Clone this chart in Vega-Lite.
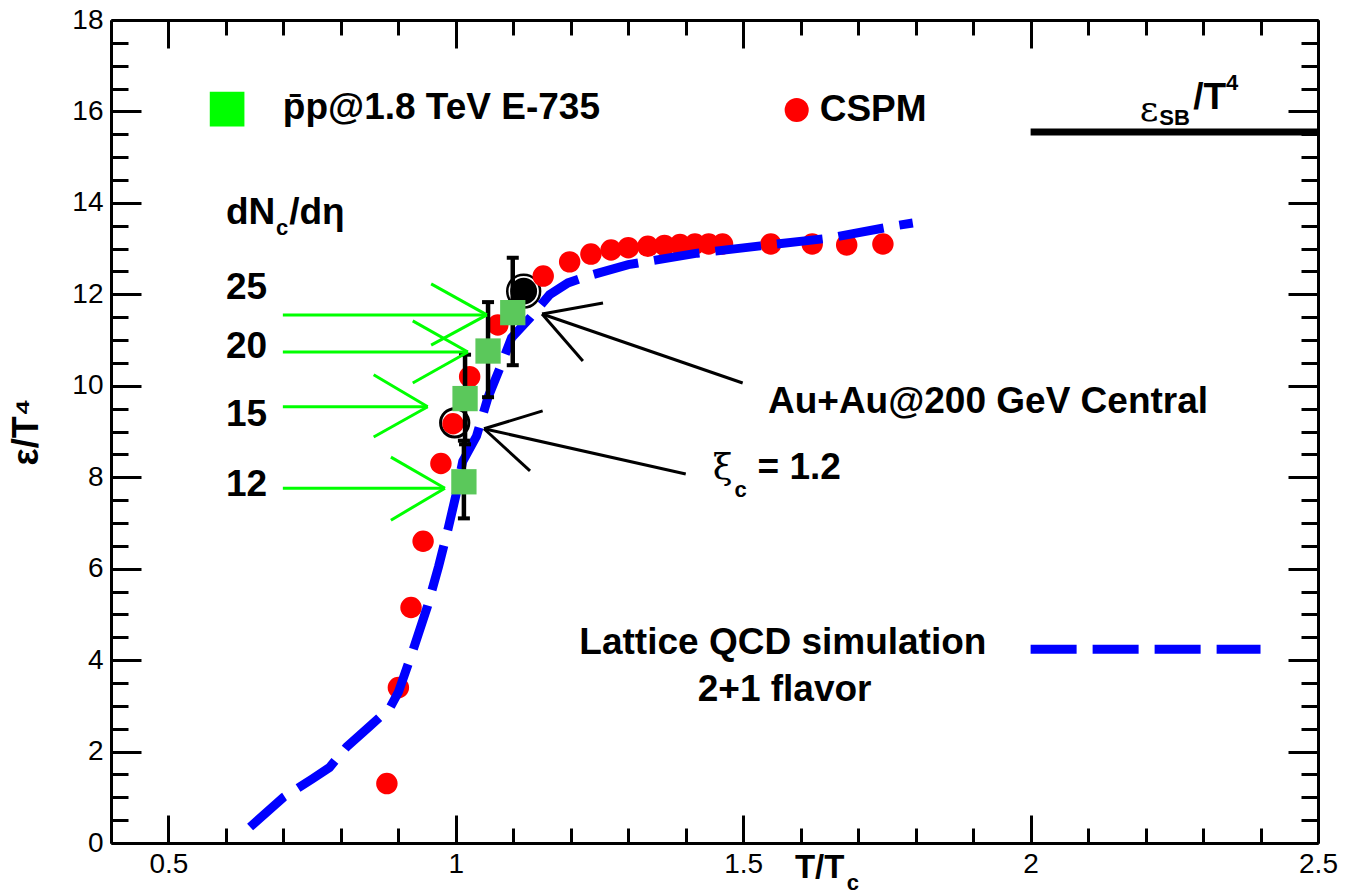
{
  "$schema": "https://vega.github.io/schema/vega-lite/v6.json",
  "width": 1207,
  "height": 823,
  "autosize": {"type": "none"},
  "padding": {"left": 111, "top": 20, "right": 27, "bottom": 52},
  "background": "white",
  "config": {"view": {"stroke": null}, "font": "Liberation Sans"},
  "datasets": {
    "cspm": [
      {"x": 0.88, "y": 1.3}, {"x": 0.9, "y": 3.4}, {"x": 0.922, "y": 5.15}, {"x": 0.943, "y": 6.6},
      {"x": 0.974, "y": 8.3}, {"x": 0.995, "y": 9.17}, {"x": 1.024, "y": 10.2}, {"x": 1.073, "y": 11.33},
      {"x": 1.152, "y": 12.4}, {"x": 1.198, "y": 12.71}, {"x": 1.235, "y": 12.88}, {"x": 1.27, "y": 12.97},
      {"x": 1.3, "y": 13.02}, {"x": 1.334, "y": 13.05}, {"x": 1.363, "y": 13.07}, {"x": 1.39, "y": 13.09},
      {"x": 1.416, "y": 13.1}, {"x": 1.44, "y": 13.1}, {"x": 1.464, "y": 13.1}, {"x": 1.548, "y": 13.1},
      {"x": 1.62, "y": 13.1}, {"x": 1.68, "y": 13.08}, {"x": 1.743, "y": 13.1}
    ],
    "lattice": [
      {"series": "curve", "x": 0.642, "y": 0.35}, {"series": "curve", "x": 0.7, "y": 1.0},
      {"series": "curve", "x": 0.75, "y": 1.4}, {"series": "curve", "x": 0.78, "y": 1.65},
      {"series": "curve", "x": 0.81, "y": 2.1}, {"series": "curve", "x": 0.85, "y": 2.55},
      {"series": "curve", "x": 0.885, "y": 2.95}, {"series": "curve", "x": 0.9, "y": 3.3},
      {"series": "curve", "x": 0.925, "y": 4.2}, {"series": "curve", "x": 0.95, "y": 5.15},
      {"series": "curve", "x": 0.97, "y": 6.05}, {"series": "curve", "x": 0.987, "y": 6.9},
      {"series": "curve", "x": 1.0, "y": 7.6}, {"series": "curve", "x": 1.012, "y": 8.35},
      {"series": "curve", "x": 1.036, "y": 8.9}, {"series": "curve", "x": 1.056, "y": 9.75},
      {"series": "curve", "x": 1.077, "y": 10.4}, {"series": "curve", "x": 1.097, "y": 11.05},
      {"series": "curve", "x": 1.13, "y": 11.5}, {"series": "curve", "x": 1.163, "y": 11.99},
      {"series": "curve", "x": 1.195, "y": 12.25}, {"series": "curve", "x": 1.23, "y": 12.4},
      {"series": "curve", "x": 1.3, "y": 12.65}, {"series": "curve", "x": 1.42, "y": 12.9},
      {"series": "curve", "x": 1.53, "y": 13.06}, {"series": "curve", "x": 1.65, "y": 13.23},
      {"series": "curve", "x": 1.765, "y": 13.5}, {"series": "curve", "x": 1.795, "y": 13.56},
      {"series": "legend", "x": 2.0, "y": 4.24}, {"series": "legend", "x": 2.4, "y": 4.24}
    ],
    "ppbar": [
      {"x": 1.014, "y": 7.9, "lo": 7.1, "hi": 8.8},
      {"x": 1.016, "y": 9.72, "lo": 8.72, "hi": 10.68},
      {"x": 1.056, "y": 10.76, "lo": 9.75, "hi": 11.83},
      {"x": 1.099, "y": 11.6, "lo": 10.45, "hi": 12.8}
    ],
    "openCircle": [{"x": 0.998, "y": 9.19}],
    "filledCircle": [{"x": 1.118, "y": 12.07}],
    "sb": [{"x": 2.0, "x2": 2.5, "y": 15.55}],
    "greenArrows": [
      {"x": 0.699, "y": 11.55, "x2": 1.054, "y2": 11.55}, {"x": 0.957, "y": 12.23, "x2": 1.054, "y2": 11.55}, {"x": 0.957, "y": 10.89, "x2": 1.054, "y2": 11.55},
      {"x": 0.699, "y": 10.74, "x2": 1.021, "y2": 10.74}, {"x": 0.925, "y": 11.42, "x2": 1.021, "y2": 10.74}, {"x": 0.925, "y": 10.06, "x2": 1.021, "y2": 10.74},
      {"x": 0.699, "y": 9.54, "x2": 0.951, "y2": 9.54}, {"x": 0.857, "y": 10.24, "x2": 0.951, "y2": 9.54}, {"x": 0.857, "y": 8.88, "x2": 0.951, "y2": 9.54},
      {"x": 0.699, "y": 7.76, "x2": 0.981, "y2": 7.76}, {"x": 0.887, "y": 8.44, "x2": 0.981, "y2": 7.76}, {"x": 0.887, "y": 7.06, "x2": 0.981, "y2": 7.76}
    ],
    "blackArrows": [
      {"x": 1.499, "y": 10.06, "x2": 1.15, "y2": 11.57}, {"x": 1.256, "y": 11.81, "x2": 1.15, "y2": 11.57}, {"x": 1.221, "y": 10.54, "x2": 1.15, "y2": 11.57},
      {"x": 1.4, "y": 8.07, "x2": 1.049, "y2": 9.06}, {"x": 1.151, "y": 9.45, "x2": 1.049, "y2": 9.06}, {"x": 1.129, "y": 8.14, "x2": 1.049, "y2": 9.06}
    ],
    "textBold": [
      {"x": 0.699, "y": 16.08, "text": "p̄p@1.8 TeV E-735"},
      {"x": 1.633, "y": 16.03, "text": "CSPM"},
      {"x": 0.6, "y": 13.78, "text": "dN"},
      {"x": 0.71, "y": 13.78, "text": "/dη"},
      {"x": 0.6, "y": 12.14, "text": "25"},
      {"x": 0.6, "y": 10.85, "text": "20"},
      {"x": 0.6, "y": 9.36, "text": "15"},
      {"x": 0.6, "y": 7.83, "text": "12"},
      {"x": 1.543, "y": 9.65, "text": "Au+Au@200 GeV Central"},
      {"x": 1.525, "y": 8.2, "text": "= 1.2"},
      {"x": 2.283, "y": 16.3, "text": "/T"}
    ],
    "textCenter": [
      {"x": 1.569, "y": 4.37, "text": "Lattice QCD simulation"},
      {"x": 1.572, "y": 3.35, "text": "2+1 flavor"}
    ],
    "textSmall": [
      {"x": 0.687, "y": 13.45, "text": "c"},
      {"x": 1.485, "y": 7.72, "text": "c"},
      {"x": 2.224, "y": 15.85, "text": "SB"},
      {"x": 2.34, "y": 16.62, "text": "4"},
      {"x": 1.68, "y": -0.88, "text": "c"}
    ],
    "textGreek": [
      {"x": 1.447, "y": 8.2, "text": "ξ"},
      {"x": 2.19, "y": 16.03, "text": "ε"}
    ],
    "xTitle": [{"x": 1.59, "y": -0.55, "text": "T/T"}],
    "legendSquare": [{"x": 0.602, "y": 16.05}],
    "legendDot": [{"x": 1.593, "y": 16.03}]
  },
  "encoding": {
    "x": {"field": "x", "type": "quantitative", "scale": {"domain": [0.4, 2.5], "nice": false, "zero": false}, "axis": null},
    "y": {"field": "y", "type": "quantitative", "scale": {"domain": [0, 18], "nice": false, "zero": false}, "axis": null}
  },
  "resolve": {"axis": {"x": "independent", "y": "independent"}},
  "layer": [
    {
      "data": {"name": "sb"},
      "mark": {"type": "rule", "color": "black", "strokeWidth": 7},
      "encoding": {
        "x": {"field": "x", "type": "quantitative", "scale": {"domain": [0.4, 2.5], "nice": false, "zero": false},
          "axis": {"orient": "bottom", "values": [0.4,0.5,0.6,0.7,0.8,0.9,1,1.1,1.2,1.3,1.4,1.5,1.6,1.7,1.8,1.9,2,2.1,2.2,2.3,2.4,2.5],
            "format": "~g",
            "labelExpr": "abs(datum.value*2-round(datum.value*2))<0.001 ? datum.label : ''",
            "tickSize": {"condition": {"test": "abs(datum.value*2-round(datum.value*2))<0.001", "value": -28}, "value": -15},
            "tickWidth": 3, "tickColor": "black", "domainColor": "black", "domainWidth": 3,
            "labelFont": "Liberation Sans", "labelFontSize": 28, "labelColor": "black", "labelPadding": 35,
            "labelOverlap": false, "labelFlush": false, "labelBound": false, "grid": false, "title": null}},
        "x2": {"field": "x2"},
        "y": {"field": "y", "type": "quantitative", "scale": {"domain": [0, 18], "nice": false, "zero": false},
          "axis": {"orient": "left", "values": [0,0.5,1,1.5,2,2.5,3,3.5,4,4.5,5,5.5,6,6.5,7,7.5,8,8.5,9,9.5,10,10.5,11,11.5,12,12.5,13,13.5,14,14.5,15,15.5,16,16.5,17,17.5,18],
            "format": "~g",
            "labelExpr": "abs(datum.value/2-round(datum.value/2))<0.001 ? datum.label : ''",
            "tickSize": {"condition": {"test": "abs(datum.value/2-round(datum.value/2))<0.001", "value": -30}, "value": -17},
            "tickWidth": 3, "tickColor": "black", "domainColor": "black", "domainWidth": 3,
            "labelFont": "Liberation Sans", "labelFontSize": 28, "labelColor": "black", "labelPadding": 38,
            "labelOverlap": false, "labelBound": false, "labelFlush": false, "grid": false,
            "title": "ε/T⁴", "titleFont": "Liberation Sans", "titleFontSize": 36, "titleFontWeight": "bold", "titleColor": "black", "titlePadding": 26}}
      }
    },
    {
      "data": {"name": "openCircle"},
      "mark": {"type": "point", "shape": "circle", "filled": false, "stroke": "black", "strokeWidth": 3, "size": 800, "opacity": 1},
      "encoding": {
        "x": {"field": "x", "type": "quantitative", "scale": {"domain": [0.4, 2.5], "nice": false, "zero": false},
          "axis": {"orient": "top", "values": [0.4,0.5,0.6,0.7,0.8,0.9,1,1.1,1.2,1.3,1.4,1.5,1.6,1.7,1.8,1.9,2,2.1,2.2,2.3,2.4,2.5],
            "labels": false,
            "tickSize": {"condition": {"test": "abs(datum.value*2-round(datum.value*2))<0.001", "value": -28}, "value": -15},
            "tickWidth": 3, "tickColor": "black", "domainColor": "black", "domainWidth": 3, "grid": false, "title": null}},
        "y": {"field": "y", "type": "quantitative", "scale": {"domain": [0, 18], "nice": false, "zero": false},
          "axis": {"orient": "right", "values": [0,0.5,1,1.5,2,2.5,3,3.5,4,4.5,5,5.5,6,6.5,7,7.5,8,8.5,9,9.5,10,10.5,11,11.5,12,12.5,13,13.5,14,14.5,15,15.5,16,16.5,17,17.5,18],
            "labels": false,
            "tickSize": {"condition": {"test": "abs(datum.value/2-round(datum.value/2))<0.001", "value": -30}, "value": -17},
            "tickWidth": 3, "tickColor": "black", "domainColor": "black", "domainWidth": 3, "grid": false, "title": null}}
      }
    },
    {
      "data": {"name": "filledCircle"},
      "mark": {"type": "point", "shape": "circle", "filled": true, "color": "black", "opacity": 1, "size": 720}
    },
    {
      "data": {"name": "filledCircle"},
      "mark": {"type": "point", "shape": "circle", "filled": false, "stroke": "black", "strokeWidth": 2.5, "opacity": 1, "size": 1080}
    },
    {
      "data": {"name": "cspm"},
      "mark": {"type": "point", "shape": "circle", "filled": true, "color": "#ff0000", "opacity": 1, "size": 460}
    },
    {
      "data": {"name": "lattice"},
      "mark": {"type": "line", "color": "#0000ff", "strokeWidth": 9, "strokeDash": [46, 16]},
      "encoding": {"detail": {"field": "series"}}
    },
    {
      "data": {"name": "ppbar"},
      "mark": {"type": "rule", "color": "black", "strokeWidth": 4.5},
      "encoding": {"y": {"field": "lo", "type": "quantitative", "scale": {"domain": [0, 18], "nice": false, "zero": false}, "axis": null}, "y2": {"field": "hi"}}
    },
    {
      "data": {"name": "ppbar"},
      "mark": {"type": "tick", "orient": "horizontal", "color": "black", "opacity": 1, "thickness": 4, "size": 12},
      "encoding": {"y": {"field": "lo", "type": "quantitative", "scale": {"domain": [0, 18], "nice": false, "zero": false}, "axis": null}}
    },
    {
      "data": {"name": "ppbar"},
      "mark": {"type": "tick", "orient": "horizontal", "color": "black", "opacity": 1, "thickness": 4, "size": 12},
      "encoding": {"y": {"field": "hi", "type": "quantitative", "scale": {"domain": [0, 18], "nice": false, "zero": false}, "axis": null}}
    },
    {
      "data": {"name": "ppbar"},
      "mark": {"type": "point", "shape": "square", "filled": true, "color": "#5bc85b", "opacity": 1, "size": 640}
    },
    {
      "data": {"name": "greenArrows"},
      "mark": {"type": "rule", "color": "#00ff00", "strokeWidth": 3},
      "encoding": {"x2": {"field": "x2"}, "y2": {"field": "y2"}}
    },
    {
      "data": {"name": "blackArrows"},
      "mark": {"type": "rule", "color": "black", "strokeWidth": 3},
      "encoding": {"x2": {"field": "x2"}, "y2": {"field": "y2"}}
    },
    {
      "data": {"name": "legendSquare"},
      "mark": {"type": "point", "shape": "square", "filled": true, "color": "#00ff00", "opacity": 1, "size": 1200}
    },
    {
      "data": {"name": "legendDot"},
      "mark": {"type": "point", "shape": "circle", "filled": true, "color": "#ff0000", "opacity": 1, "size": 580}
    },
    {
      "data": {"name": "textBold"},
      "mark": {"type": "text", "align": "left", "baseline": "middle", "font": "Liberation Sans", "fontWeight": "bold", "fontSize": 37, "color": "black"},
      "encoding": {"text": {"field": "text"}}
    },
    {
      "data": {"name": "textCenter"},
      "mark": {"type": "text", "align": "center", "baseline": "middle", "font": "Liberation Sans", "fontWeight": "bold", "fontSize": 37, "color": "black"},
      "encoding": {"text": {"field": "text"}}
    },
    {
      "data": {"name": "textSmall"},
      "mark": {"type": "text", "align": "left", "baseline": "middle", "font": "Liberation Sans", "fontWeight": "bold", "fontSize": 22, "color": "black"},
      "encoding": {"text": {"field": "text"}}
    },
    {
      "data": {"name": "textGreek"},
      "mark": {"type": "text", "align": "left", "baseline": "middle", "font": "DejaVu Serif", "fontWeight": "normal", "fontSize": 36, "color": "black"},
      "encoding": {"text": {"field": "text"}}
    },
    {
      "data": {"name": "xTitle"},
      "mark": {"type": "text", "align": "left", "baseline": "middle", "font": "Liberation Sans", "fontWeight": "bold", "fontSize": 33, "color": "black"},
      "encoding": {"text": {"field": "text"}}
    }
  ]
}
